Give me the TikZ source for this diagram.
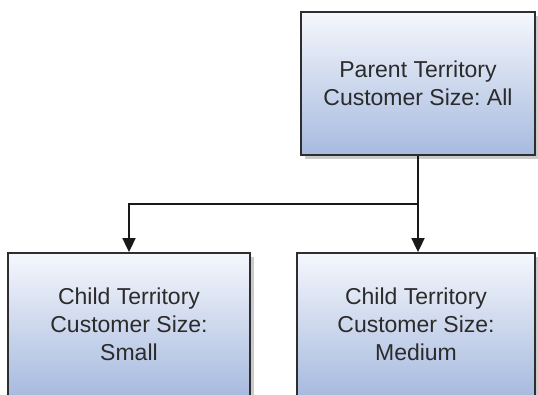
\documentclass[tikz,border=0pt]{standalone}
\usepackage{fontspec}
\setmainfont{Liberation Sans}
\usetikzlibrary{arrows.meta,shadows,calc}
\definecolor{boxtop}{HTML}{F5F7FC}
\definecolor{boxbot}{HTML}{A7BADF}
\definecolor{boxline}{HTML}{2E2E2E}
\definecolor{boxtext}{HTML}{2B2B2B}
\definecolor{shade}{HTML}{BDBDBD}
\frenchspacing
\begin{document}
\begin{tikzpicture}[x=1pt,y=-1pt]
\tikzset{
  terr/.style={draw=boxline, line width=1.8pt, top color=boxtop, bottom color=boxbot,
    minimum height=143pt, inner sep=0pt, align=center, text=boxtext,
    font=\fontsize{23}{28}\selectfont,
    drop shadow={shadow xshift=4pt, shadow yshift=-4pt, fill=shade, opacity=0.8}},
  link/.style={draw=black!90, line width=1.8pt, -{Triangle[width=13pt,length=14pt]}}
}
\useasboundingbox (0,0) rectangle (538,395);
\node [terr, minimum width=234pt] (parent) at (418,83.5) {Parent Territory\\Customer Size: All};
\node [terr, minimum width=242pt] (small) at (129,324.5) {Child Territory\\Customer Size:\\Small};
\node [terr, minimum width=238pt] (medium) at (416,324.5) {Child Territory\\Customer Size:\\Medium};
\draw [link] (parent.south) -- (parent.south |- medium.north);
\draw [link] ($(parent.south)!0.5!(parent.south |- medium.north)$) -| (small.north);
\end{tikzpicture}
\end{document}
